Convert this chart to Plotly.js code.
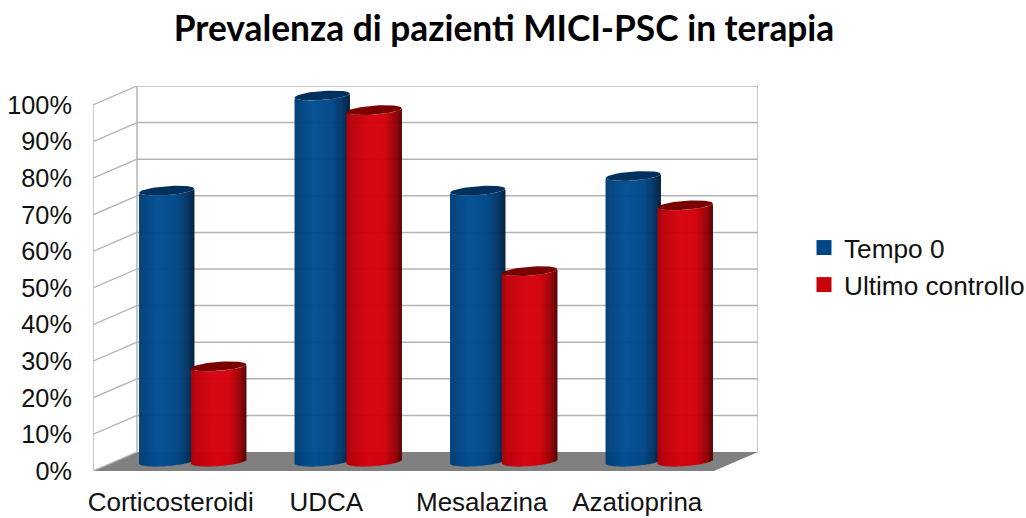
<!DOCTYPE html>
<html>
<head>
<meta charset="utf-8">
<script src="https://cdn.plot.ly/plotly-3.0.1.min.js"></script>
<style>html,body{margin:0;padding:0;background:#fff;}</style>
</head>
<body>
<div id="chart" style="width:1026px;height:518px;"></div>
<script>
const categories = ["Corticosteroidi", "UDCA", "Mesalazina", "Azatioprina"];
const tempo0 = [74, 100, 74, 78];
const ultimoControllo = [26, 96, 52, 70];
const yTicks = [0, 10, 20, 30, 40, 50, 60, 70, 80, 90, 100];

// Fake-3D geometry, in axis units
const W = 1026, H = 518;
const plot = {l: 93, r: 758, t: 86, b: 471};
const pxPerCat = 155.5, pxPerPct = 3.66;
const depthX = 44 / pxPerCat, depthY = 19 / pxPerPct;
const radiusX = 27.5 / pxPerCat, ellB = 4.5 / pxPerPct, ellTilt = 2 / pxPerPct;
const sideOffset = 26 / pxPerCat;
const slices = 55;

const xRange = [-0.5, -0.5 + (plot.r - plot.l) / pxPerCat];
const yRange = [0, (plot.b - plot.t) / pxPerPct];

const blueRamp = [[-1, [0, 62, 118]], [-0.3, [0, 78, 146]], [0.35, [0, 72, 136]], [0.75, [0, 52, 100]], [1, [0, 30, 60]]];
const redRamp = [[-1, [178, 0, 8]], [-0.2, [214, 0, 14]], [0.4, [210, 0, 12]], [0.78, [150, 0, 6]], [1, [85, 0, 0]]];

function ramp(stops, u) {
  for (let i = 1; i < stops.length; i++) {
    if (u <= stops[i][0]) {
      const a = stops[i - 1], b = stops[i], f = (u - a[0]) / (b[0] - a[0]);
      const c = a[1].map((v, k) => Math.round(v + (b[1][k] - v) * f));
      return `rgb(${c[0]},${c[1]},${c[2]})`;
    }
  }
  const c = stops[stops.length - 1][1];
  return `rgb(${c[0]},${c[1]},${c[2]})`;
}

function cylinderBody(name, values, side, stops) {
  const x = [], y = [], base = [], color = [];
  const baseCenter = depthY / 2;
  values.forEach((v, i) => {
    const cx = i + depthX / 2 + side * sideOffset;
    for (let s = 0; s < slices; s++) {
      const u = -1 + (2 * s + 1) / slices;
      const arc = -ellB * Math.sqrt(1 - u * u) + ellTilt * u;
      x.push(cx + u * radiusX);
      base.push(baseCenter + arc);
      y.push(v);
      color.push(ramp(stops, u));
    }
  });
  return {type: "bar", name, x, y, base, width: (2 * radiusX / slices) * 1.4,
    marker: {color, line: {width: 0}}, showlegend: false, hoverinfo: "skip"};
}

function cylinderTops(values, side, color) {
  return values.map((v, i) => {
    const cx = i + depthX / 2 + side * sideOffset, cy = v + depthY / 2;
    const xs = [], ys = [];
    for (let a = 0; a <= 72; a++) {
      const t = a / 72 * 2 * Math.PI;
      xs.push(cx + radiusX * Math.cos(t));
      ys.push(cy + ellB * Math.sin(t) + ellTilt * Math.cos(t));
    }
    return {type: "scatter", mode: "lines", x: xs, y: ys, fill: "toself", fillcolor: color,
      line: {width: 0, color}, showlegend: false, hoverinfo: "skip"};
  });
}

const legendKey = (name, color) => ({type: "scatter", mode: "markers", name, x: [null], y: [null],
  marker: {symbol: "square", size: 15, color}, hoverinfo: "skip"});

const gridColor = "#b3b3b3";
const shapes = [];
const fx = xRange[0], bx = xRange[0] + depthX, rx = xRange[1];
shapes.push({type: "path", layer: "below", line: {width: 0}, fillcolor: "#808080",
  path: `M${fx},0 L${bx},${depthY} L${rx},${depthY} L${rx - depthX},0 Z`});
yTicks.forEach(t => {
  shapes.push({type: "line", layer: "below", x0: fx, y0: t, x1: bx, y1: t + depthY, line: {color: gridColor, width: 1.3}});
  if (t > 0) shapes.push({type: "line", layer: "below", x0: bx, y0: t + depthY, x1: rx, y1: t + depthY, line: {color: gridColor, width: 1.5}});
});
[fx, bx, rx].forEach((xv, k) => {
  const off = k === 0 ? 0 : depthY;
  shapes.push({type: "line", layer: "below", x0: xv, y0: off, x1: xv, y1: 100 + off, line: {color: gridColor, width: 1.5}});
});

const data = [
  cylinderBody("Tempo 0", tempo0, -1, blueRamp),
  cylinderBody("Ultimo controllo", ultimoControllo, 1, redRamp),
  ...cylinderTops(tempo0, -1, "#00305c"),
  ...cylinderTops(ultimoControllo, 1, "#7a0000"),
  legendKey("Tempo 0", "#004586"),
  legendKey("Ultimo controllo", "#c5000b")
];

const layout = {
  width: W, height: H,
  margin: {l: plot.l, r: W - plot.r, t: plot.t, b: H - plot.b, pad: 0},
  paper_bgcolor: "#ffffff", plot_bgcolor: "rgba(0,0,0,0)",
  barmode: "overlay",
  font: {family: "Liberation Sans, Arial, sans-serif", color: "#111111"},
  title: {text: "Prevalenza di pazienti MICI-PSC in terapia",
    font: {family: "Lato, sans-serif", size: 35.3, weight: 700, color: "#000000"},
    x: 504 / W, xanchor: "center", xref: "container", y: 1 - 29 / H, yanchor: "middle", yref: "container"},
  xaxis: {type: "linear", range: xRange, tickmode: "array", tickvals: categories.map((_, i) => i), ticktext: categories,
    showgrid: false, zeroline: false, showline: false, ticks: "outside", ticklen: 8, tickcolor: "rgba(0,0,0,0)",
    tickfont: {size: 26}, fixedrange: true},
  yaxis: {range: yRange, tickmode: "array", tickvals: yTicks, ticktext: yTicks.map(t => t + "%"),
    showgrid: false, zeroline: false, showline: false, ticks: "outside", ticklen: 15, tickcolor: "rgba(0,0,0,0)",
    tickfont: {size: 25.3}, fixedrange: true},
  legend: {x: 804 / W, xref: "container", xanchor: "left", y: 1 - 224 / H, yref: "container", yanchor: "top",
    font: {size: 26.2}, bgcolor: "rgba(0,0,0,0)", itemclick: false, itemdoubleclick: false},
  shapes,
  showlegend: true
};
Plotly.newPlot("chart", data, layout, {displayModeBar: false, staticPlot: true});
</script>
</body>
</html>
